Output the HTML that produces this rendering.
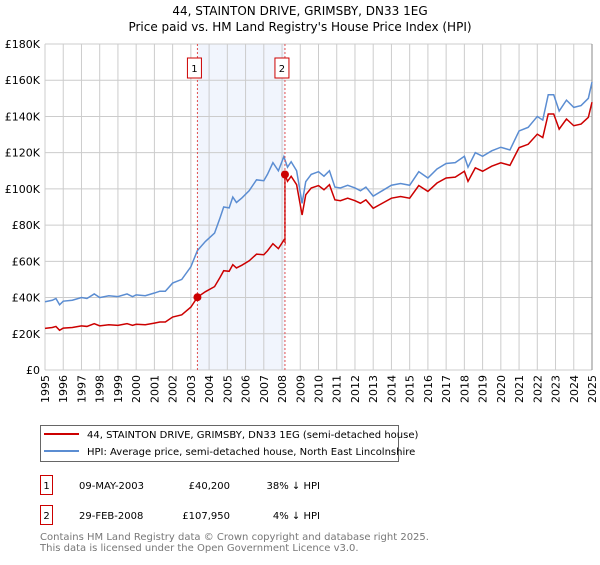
<!DOCTYPE html>
<html><head><meta charset="utf-8"><style>
body{margin:0;background:#fff;font-family:"Liberation Sans","DejaVu Sans",sans-serif;}
svg text{font-family:"DejaVu Sans","Liberation Sans",sans-serif;}
</style></head><body>
<svg id="c" width="600" height="560" viewBox="0 0 600 560" xmlns="http://www.w3.org/2000/svg">
<text x="300" y="15" text-anchor="middle" font-size="12" fill="#000">44, STAINTON DRIVE, GRIMSBY, DN33 1EG</text>
<text x="300" y="31" text-anchor="middle" font-size="12" fill="#000">Price paid vs. HM Land Registry's House Price Index (HPI)</text>
<g id="plot"></g>
<g>
<rect x="40.5" y="425.5" width="358" height="36" fill="#fff" stroke="#666"/>
<line x1="44" y1="434" x2="79" y2="434" stroke="#cc0000" stroke-width="2"/>
<text x="87" y="438" font-size="10">44, STAINTON DRIVE, GRIMSBY, DN33 1EG (semi-detached house)</text>
<line x1="44" y1="451" x2="79" y2="451" stroke="#5b8dd2" stroke-width="2"/>
<text x="87" y="455" font-size="10">HPI: Average price, semi-detached house, North East Lincolnshire</text>
</g>
<g font-size="10">
<rect x="40.5" y="475.5" width="12" height="19" fill="#fff" stroke="#cc0000"/>
<text x="46.5" y="489" text-anchor="middle">1</text>
<text x="79" y="489">09-MAY-2003</text>
<text x="230" y="489" text-anchor="end">£40,200</text>
<text x="320" y="489" text-anchor="end">38% ↓ HPI</text>
<rect x="40.5" y="505.5" width="12" height="19" fill="#fff" stroke="#cc0000"/>
<text x="46.5" y="519" text-anchor="middle">2</text>
<text x="79" y="519">29-FEB-2008</text>
<text x="230" y="519" text-anchor="end">£107,950</text>
<text x="320" y="519" text-anchor="end">4% ↓ HPI</text>
</g>
<text x="40" y="540" font-size="10" fill="#777">Contains HM Land Registry data © Crown copyright and database right 2025.</text>
<text x="40" y="551" font-size="10" fill="#777">This data is licensed under the Open Government Licence v3.0.</text>
</svg>
<script>
const hpiYears=[1995,1995.4,1995.6,1995.8,1996,1996.5,1997,1997.3,1997.7,1998,1998.5,1999,1999.5,1999.8,2000,2000.5,2001,2001.3,2001.6,2002,2002.5,2003,2003.36,2003.8,2004.3,2004.6,2004.8,2005.1,2005.3,2005.5,2005.8,2006.2,2006.6,2007,2007.2,2007.5,2007.8,2008.1,2008.3,2008.5,2008.8,2009.1,2009.3,2009.6,2010,2010.3,2010.6,2010.9,2011.2,2011.6,2012,2012.3,2012.6,2013,2013.5,2014,2014.5,2015,2015.5,2016,2016.5,2017,2017.5,2018,2018.2,2018.6,2019,2019.5,2020,2020.5,2021,2021.5,2022,2022.3,2022.6,2022.9,2023.2,2023.6,2024,2024.4,2024.8,2025];
const hpiValues=[37.7,38.5,39.5,36,38,38.5,40,39.5,42,40,41,40.5,42,40.5,41.5,41,42.5,43.5,43.5,48,50,57,66,71,75.6,84,90,89.5,95.5,92.5,95,99,105,104.5,108,114.5,110,117.8,112,115,110,92,104,108,109.5,107,110,101,100.5,102,100.5,99,101,96,99,102,103,102,109.5,106,111,114,114.5,118,112,120,118,121,123,121.5,132,134,140,138,152,152,143,149,145,146,150,159];
const sales=[{year:2003.36,price:40200,label:"1"},{year:2008.16,price:107950,label:"2"}];
const yTicks=[0,20,40,60,80,100,120,140,160,180];
const yLabels=["£0","£20K","£40K","£60K","£80K","£100K","£120K","£140K","£160K","£180K"];
const xTicks=[1995,1996,1997,1998,1999,2000,2001,2002,2003,2004,2005,2006,2007,2008,2009,2010,2011,2012,2013,2014,2015,2016,2017,2018,2019,2020,2021,2022,2023,2024,2025];

const X0=45,X1=592,Y0=370,Y1=44;
const xs=y=>X0+(y-1995)/30*(X1-X0);
const ys=v=>Y0-v/180*(Y0-Y1);
const NS="http://www.w3.org/2000/svg";
const g=document.getElementById('plot');
function mk(t,a){const e=document.createElementNS(NS,t);for(const k in a)e.setAttribute(k,a[k]);g.appendChild(e);return e;}
function hpiAt(y){for(let i=1;i<hpiYears.length;i++){if(y<=hpiYears[i]){const t=(y-hpiYears[i-1])/(hpiYears[i]-hpiYears[i-1]);return hpiValues[i-1]+t*(hpiValues[i]-hpiValues[i-1]);}}return hpiValues[hpiValues.length-1];}

let sh=mk('rect',{x:xs(sales[0].year),y:Y1,width:xs(sales[1].year)-xs(sales[0].year),height:Y0-Y1,fill:'#eef3fc',opacity:0.8});


yTicks.forEach((v,i)=>{
 let l=mk('line',{x1:X0,x2:X1,y1:ys(v),y2:ys(v),stroke:'#ccc','stroke-width':1});
 
 
 let t=mk('text',{x:X0-5,y:ys(v)+4,'text-anchor':'end','font-size':11});
 t.textContent=yLabels[i];
 
 
});
xTicks.forEach(y=>{
 let l=mk('line',{x1:xs(y),x2:xs(y),y1:Y1,y2:Y0,stroke:'#ccc','stroke-width':1});
 
 
 let t=mk('text',{x:0,y:0,'text-anchor':'end','font-size':11,transform:`translate(${xs(y)+4},${Y0+5}) rotate(-90)`});
 t.textContent=y;
 
 
});
let ax=mk('line',{x1:X1,x2:X1,y1:Y1,y2:Y0,stroke:'#888'});



const r1=sales[0].price/1000/hpiAt(sales[0].year), r2=sales[1].price/1000/hpiAt(sales[1].year);
let redPts=[];
hpiYears.forEach((y,i)=>{
 if(y<sales[1].year) redPts.push([y,hpiValues[i]*r1]);
});
redPts.push([sales[1].year,hpiAt(sales[1].year)*r1]);
redPts.push([sales[1].year,sales[1].price/1000]);
hpiYears.forEach((y,i)=>{if(y>sales[1].year)redPts.push([y,hpiValues[i]*r2]);});

let hp=mk('polyline',{points:hpiYears.map((y,i)=>xs(y)+','+ys(hpiValues[i])).join(' '),fill:'none',stroke:'#5b8dd2','stroke-width':1.5});


let rp=mk('polyline',{points:redPts.map(p=>xs(p[0])+','+ys(p[1])).join(' '),fill:'none',stroke:'#cc0000','stroke-width':1.5});



sales.forEach(s=>{
 let l=mk('line',{x1:xs(s.year),x2:xs(s.year),y1:Y1,y2:Y0,stroke:'#e05050','stroke-dasharray':'2,2','stroke-width':1});
 
 
 let c=mk('circle',{cx:xs(s.year),cy:ys(s.price/1000),r:4,fill:'#cc0000'});
 
 
 let b=mk('rect',{x:xs(s.year)-10,y:58,width:14,height:20,fill:'#fff',stroke:'#cc0000'});
 
 
 let t=mk('text',{x:xs(s.year)-3,y:72,'text-anchor':'middle','font-size':10});
 t.textContent=s.label;
 
 
});
</script>
</body></html>
